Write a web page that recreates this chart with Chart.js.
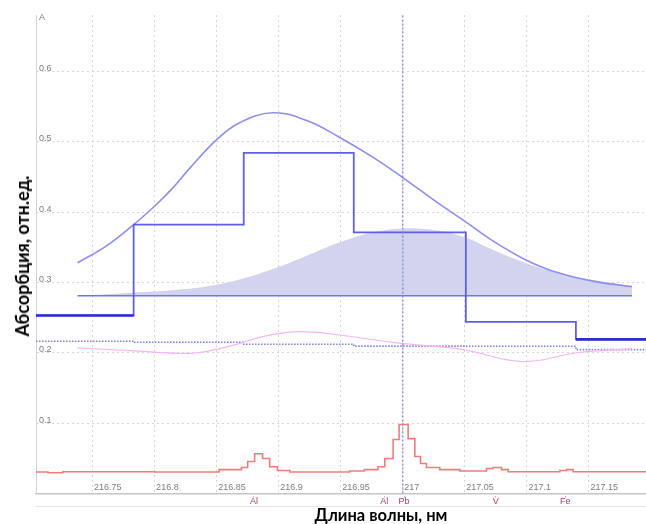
<!DOCTYPE html>
<html><head><meta charset="utf-8">
<script src="https://cdn.jsdelivr.net/npm/chart.js@4"></script>
<style>
html,body{margin:0;padding:0;background:#fff;}
#wrap{position:relative;width:646px;height:524px;overflow:hidden;}
canvas{position:absolute;left:0;top:0;}
.t{position:absolute;font-family:Lato,'Liberation Sans',sans-serif;font-weight:bold;color:#000;white-space:nowrap;line-height:1;}
#yt{left:22px;top:256px;font-size:18px;transform:translate(-50%,-50%) rotate(-90deg);}
#xt{left:381px;top:515px;font-size:16.5px;transform:translate(-50%,-50%);}
</style></head><body>
<div id="wrap"><canvas id="c" width="646" height="524"></canvas>
<div class="t" id="yt">Абсорбция, отн.ед.</div>
<div class="t" id="xt">Длина волны, нм</div></div>
<script>
// ---- axis ranges and ticks ----
const xMin = 216.7044, xMax = 217.196;
const yMin = 0, yMax = 0.68;
const xTickValues = [216.75, 216.8, 216.85, 216.9, 216.95, 217.0, 217.05, 217.1, 217.15];
const xTickLabels = ['216.75','216.8','216.85','216.9','216.95','217','217.05','217.1','217.15'];
const yTickValues = [0.1, 0.2, 0.3, 0.4, 0.5, 0.6];
const yTickLabels = ['0.1','0.2','0.3','0.4','0.5','0.6'];
const yUnitLabel = 'A';
const yUnitValue = 0.672;
const elementNames = ['Al', 'Al', 'Pb', 'V', 'Fe'];
const elementWl = [216.880, 216.985, 217.001, 217.075, 217.131];
const markerWl = 217.0;

// ---- broad gaussian-like profile ----
const gaussWl = [216.7379, 216.7613, 216.7831, 216.8016, 216.8145, 216.8282, 216.8500, 216.8685, 216.8952, 216.9226, 216.9492, 216.9758, 217.0000, 217.0242, 217.0516, 217.0726, 217.0968, 217.1160, 217.1370, 217.1589, 217.1847];
const gaussVal = [0.328, 0.352, 0.382, 0.411, 0.434, 0.462, 0.503, 0.527, 0.541, 0.530, 0.506, 0.478, 0.449, 0.418, 0.385, 0.359, 0.334, 0.319, 0.308, 0.300, 0.294];

// ---- shaded area profile ----
const areaWl = [216.7379, 216.7613, 216.7879, 216.8145, 216.8419, 216.8685, 216.8952, 216.9226, 216.9492, 216.9758, 217.0032, 217.0298, 217.0516, 217.0702, 217.0968, 217.1242, 217.1508, 217.1847];
const areaVal = [0.281, 0.283, 0.286, 0.289, 0.294, 0.304, 0.319, 0.338, 0.357, 0.371, 0.377, 0.373, 0.363, 0.348, 0.329, 0.314, 0.304, 0.295];
const areaBase = 0.281;
const baseLineWl = [216.7379, 217.1847];

// ---- pixel (step) absorbance ----
const stepWl = [216.7044, 216.7831, 216.8718, 216.9605, 217.0508, 217.1395, 217.196];
const stepVal = [0.253, 0.382, 0.484, 0.371, 0.244, 0.219, 0.219];

// ---- dotted background steps ----
const dotWl = [216.7044, 216.7831, 216.8718, 216.9605, 217.0508, 217.1395, 217.196];
const dotVal = [0.2163, 0.2149, 0.2121, 0.2095, 0.2092, 0.2045, 0.2045];

// ---- pink correction curve ----
const pinkWl = [216.7379, 216.7798, 216.8258, 216.8419, 216.8661, 216.8871, 216.9145, 216.9411, 216.9952, 217.0484, 217.0968, 217.1403, 217.1847];
const pinkVal = [0.207, 0.203, 0.199, 0.202, 0.212, 0.223, 0.230, 0.227, 0.214, 0.2045, 0.1875, 0.200, 0.206];

// ---- red spectrum ----
const specWl = [216.7044, 216.714, 216.726, 216.80, 216.852, 216.870, 216.875, 216.8806, 216.887, 216.8927, 216.899, 216.909, 216.957, 216.969, 216.980, 216.9855, 216.9922, 216.997, 217.0043, 217.0097, 217.0143, 217.0191, 217.0298, 217.046, 217.0675, 217.0728, 217.0796, 217.085, 217.1266, 217.132, 217.1373, 217.196];
const specVal = [0.0305, 0.0295, 0.031, 0.0305, 0.034, 0.037, 0.0455, 0.0564, 0.0497, 0.038, 0.0327, 0.0305, 0.032, 0.034, 0.038, 0.0497, 0.0767, 0.098, 0.078, 0.0526, 0.0426, 0.037, 0.034, 0.032, 0.0355, 0.037, 0.034, 0.031, 0.0327, 0.034, 0.031, 0.031];

const pts = (xs, ys) => xs.map((x, i) => ({x: x, y: ys[i]}));
const n = stepWl.length;
const darkData = [
  {x: stepWl[0], y: stepVal[0]}, {x: stepWl[1], y: stepVal[0]},
  {x: (stepWl[2] + stepWl[3]) / 2, y: null},
  {x: stepWl[n - 2], y: stepVal[n - 2]}, {x: stepWl[n - 1], y: stepVal[n - 1]}
];

const common = {pointRadius: 0, pointHoverRadius: 0, fill: false};
Chart.defaults.font.family = "'Liberation Sans', Arial, sans-serif";

new Chart(document.getElementById('c'), {
  type: 'line',
  data: {
    datasets: [
      Object.assign({}, common, {data: pts([markerWl, markerWl], [yMin, yMax]), borderColor: '#7c7cd2', borderWidth: 1.2, borderDash: [2, 2]}),
      Object.assign({}, common, {data: darkData, borderColor: '#2d2dd6', borderWidth: 2.6, stepped: 'before', spanGaps: false}),
      Object.assign({}, common, {data: pts(stepWl, stepVal), borderColor: '#5e5ee9', borderWidth: 1.8, stepped: 'before'}),
      Object.assign({}, common, {data: pts(gaussWl, gaussVal), borderColor: '#8e8ef2', borderWidth: 1.6, tension: 0.4}),
      Object.assign({}, common, {data: pts(baseLineWl, [areaBase, areaBase]), borderColor: '#7373ea', borderWidth: 1.6}),
      Object.assign({}, common, {data: pts(specWl, specVal), borderColor: '#f07c7c', borderWidth: 1.6, stepped: 'before'}),
      Object.assign({}, common, {data: pts(pinkWl, pinkVal), borderColor: '#f6b6f0', borderWidth: 1.2, tension: 0.4}),
      Object.assign({}, common, {data: pts(dotWl, dotVal), borderColor: '#7f7fe2', borderWidth: 1.6, borderDash: [1.5, 1.5], stepped: 'before'}),
      Object.assign({}, common, {data: pts(areaWl, areaVal), borderWidth: 0, borderColor: 'rgba(0,0,0,0)', backgroundColor: '#d2d3ef', fill: {value: areaBase}, tension: 0.4})
    ]
  },
  options: {
    responsive: false,
    animation: false,
    devicePixelRatio: 1,
    layout: {padding: {left: 30, top: 15, right: 0, bottom: 17.5}},
    plugins: {legend: {display: false}, tooltip: {enabled: false}},
    scales: {
      x: {
        type: 'linear', position: 'bottom', min: xMin, max: xMax,
        afterBuildTicks: (s) => { s.ticks = xTickValues.map(v => ({value: v})); },
        ticks: {
          mirror: true, padding: 1, align: 'start', labelOffset: 1.5, autoSkip: false, maxRotation: 0,
          color: '#7d7d7d', font: {size: 9},
          callback: (v, i) => xTickLabels[i]
        },
        grid: {color: '#d7d7d7', lineWidth: 1, drawTicks: false},
        border: {display: true, color: '#c6c6c6', width: 1.5, dash: [2, 3]}
      },
      x2: {
        type: 'linear', position: 'bottom', min: xMin, max: xMax,
        afterBuildTicks: (s) => { s.ticks = elementWl.map(v => ({value: v})); },
        ticks: {
          padding: 0, autoSkip: false, maxRotation: 0, color: '#a8416f',
          font: {size: 9, lineHeight: 1}, callback: (v, i) => elementNames[i]
        },
        grid: {drawOnChartArea: false, drawTicks: true, tickLength: 2, color: '#d6a6bd'},
        border: {display: false}
      },
      x3: {
        type: 'linear', position: 'bottom', min: xMin, max: xMax,
        ticks: {display: false},
        grid: {display: false, drawTicks: false},
        border: {display: true, color: '#e2e2e2', width: 1}
      },
      y: {
        type: 'linear', position: 'left', min: yMin, max: yMax,
        afterBuildTicks: (s) => { s.ticks = yTickValues.map(v => ({value: v})).concat([{value: yUnitValue}]); },
        ticks: {
          mirror: true, padding: 3, labelOffset: -3, color: '#7d7d7d', font: {size: 9},
          callback: (v, i) => (i < yTickLabels.length ? yTickLabels[i] : yUnitLabel)
        },
        grid: {
          color: (ctx) => (ctx.tick && ctx.tick.value === yUnitValue ? 'rgba(0,0,0,0)' : '#d7d7d7'),
          lineWidth: 1, drawTicks: false
        },
        border: {display: true, color: '#d2d2d2', width: 1, dash: [2, 3]}
      }
    }
  }
});
</script>
</body></html>
